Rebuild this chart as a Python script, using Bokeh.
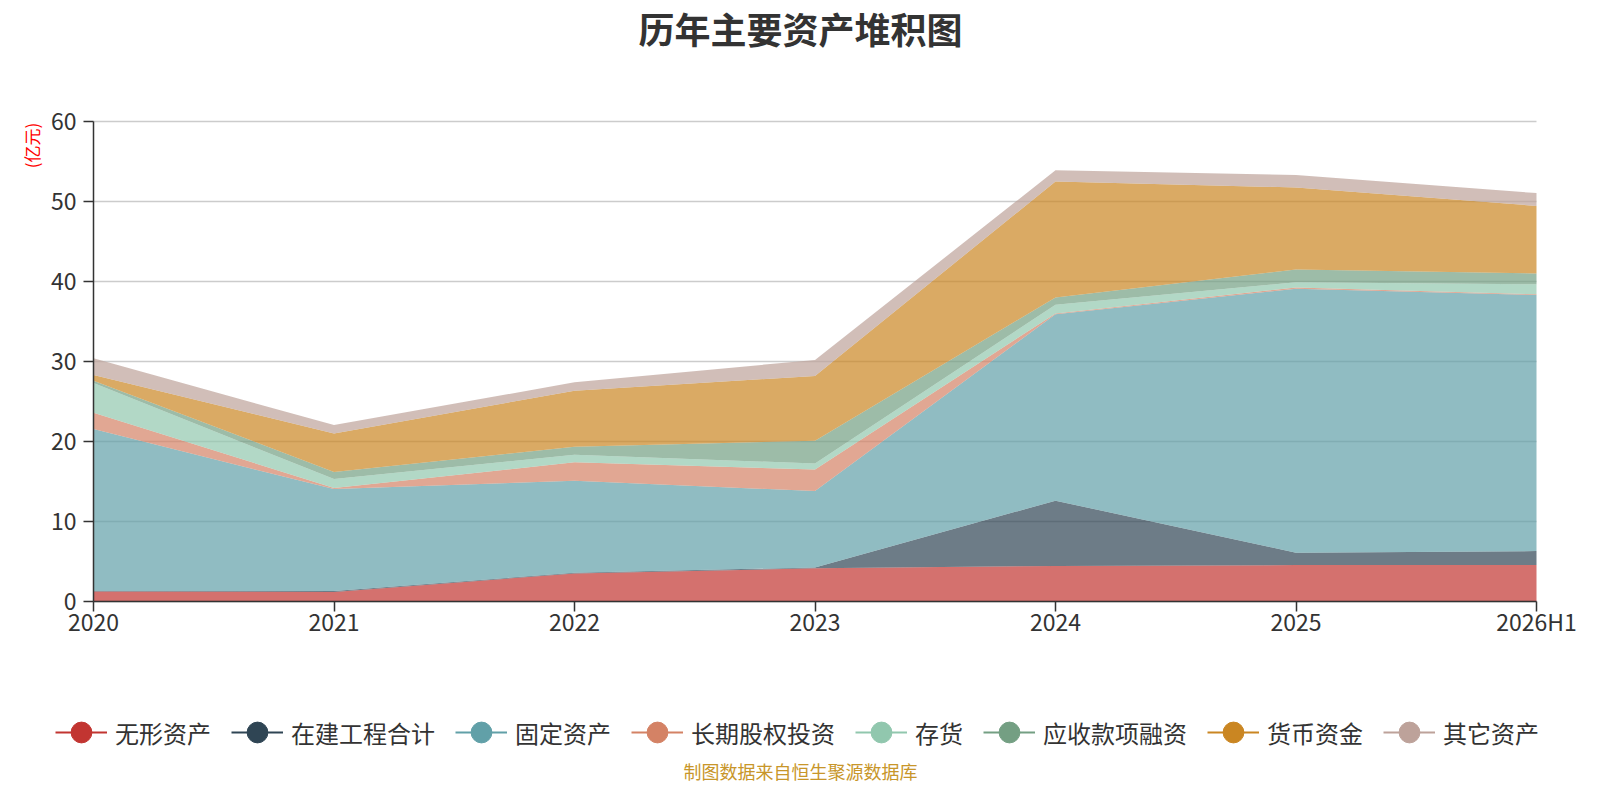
from math import pi
from bokeh.plotting import figure, ColumnDataSource
from bokeh.models import Range1d, FixedTicker, Legend, LegendItem, Label, Grid
from bokeh.embed import file_html
from bokeh.resources import INLINE

categories = ["2020", "2021", "2022", "2023", "2024", "2025", "2026H1"]
series_names = ["无形资产", "在建工程合计", "固定资产", "长期股权投资", "存货", "应收款项融资", "货币资金", "其它资产"]
wuxing = [1.25, 1.2, 3.5, 4.15, 4.45, 4.55, 4.55]
zaijian = [0.05, 0.1, 0.1, 0.1, 8.15, 1.55, 1.75]
guding = [20.25, 12.75, 11.5, 9.55, 23.3, 33.0, 32.0]
changqi = [2.05, 0.15, 2.3, 2.7, 0.1, 0.15, 0.1]
cunhuo = [3.7, 1.1, 0.95, 0.75, 1.1, 0.65, 1.25]
yingshou = [0.3, 0.9, 1.0, 2.85, 0.9, 1.6, 1.35]
huobi = [0.7, 4.8, 7.0, 8.1, 14.5, 10.25, 8.45]
qita = [2.1, 1.05, 1.05, 2.0, 1.4, 1.55, 1.6]
y_ticks = [0, 10, 20, 30, 40, 50, 60]

colors = ["#c23531", "#2f4554", "#61a0a8", "#d48265", "#91c7ae", "#749f83", "#ca8622", "#bda29a"]
FONT = "Noto Sans CJK SC"

W, H = 1584, 784
# plot area in canvas pixels (from top-left)
LEFT, RIGHT, TOP, BOTTOM = 93, 1536, 121, 601
n = len(categories)
y_max = y_ticks[-1]
px_x = (RIGHT - LEFT) / (n - 1)
px_y = (BOTTOM - TOP) / y_max

keys = ["wuxing", "zaijian", "guding", "changqi", "cunhuo", "yingshou", "huobi", "qita"]
source = ColumnDataSource(dict(
    x=list(range(n)),
    wuxing=wuxing, zaijian=zaijian, guding=guding, changqi=changqi,
    cunhuo=cunhuo, yingshou=yingshou, huobi=huobi, qita=qita,
))

# the frame covers the whole canvas; axes are pinned at the data origin
p = figure(width=W, height=H, output_backend="svg", toolbar_location=None,
           x_range=Range1d(-LEFT / px_x, (n - 1) + (W - RIGHT) / px_x),
           y_range=Range1d(-(H - BOTTOM) / px_y, y_max + TOP / px_y),
           min_border=0)
p.title.visible = False
p.outline_line_color = None
p.background_fill_color = "white"

# horizontal grid lines only across the plotting area
p.xgrid.visible = False
use_grid = "cross_bounds" in Grid.properties()
if use_grid:
    p.ygrid.cross_bounds = (0, n - 1)
    p.ygrid.grid_line_color = "#cccccc"
    p.ygrid.grid_line_width = 1.5
else:
    p.ygrid.visible = False
    p.segment(x0=0, x1=n - 1, y0=y_ticks, y1=y_ticks, line_color="#cccccc", line_width=1.5)

p.varea_stack(stackers=keys, x="x", color=colors, fill_alpha=0.7, source=source)

# axes
p.xaxis.ticker = FixedTicker(ticks=list(range(n)))
p.xaxis.major_label_overrides = {i: c for i, c in enumerate(categories)}
p.yaxis.ticker = FixedTicker(ticks=y_ticks)
p.xaxis.fixed_location = 0
p.yaxis.fixed_location = 0
p.xaxis.bounds = (0, n - 1)
p.yaxis.bounds = (0, y_max)
for ax in (p.xaxis, p.yaxis):
    ax.axis_line_color = "#333333"
    ax.axis_line_width = 1.5
    ax.major_tick_line_color = "#333333"
    ax.major_tick_line_width = 1.5
    ax.major_tick_in = 0
    ax.major_tick_out = 10
    ax.minor_tick_line_color = None
    ax.major_label_text_font = FONT
    ax.major_label_text_font_size = "23px"
    ax.major_label_text_color = "#333333"
p.xaxis.major_label_standoff = -8
p.yaxis.major_label_standoff = 7

# legend with line + circle icons (renderers hold only NaN, so nothing shows in the plot)
nan = float("nan")
items = []
for name, c in zip(series_names, colors):
    rl = p.line(x=[nan, nan], y=[nan, nan], line_color=c, line_width=2)
    rs = p.scatter(x=[nan], y=[nan], size=22, fill_color=c, line_color=c)
    items.append(LegendItem(label=name, renderers=[rl, rs]))
legend = Legend(items=items, orientation="horizontal", location=(55, 26),
                glyph_width=52, glyph_height=52, label_standoff=8, spacing=20,
                padding=0, margin=0, border_line_alpha=0, background_fill_alpha=0,
                label_text_font=FONT, label_text_font_size="24px", label_text_color="#333333")
p.add_layout(legend)

# texts (screen units, measured from the canvas bottom-left)
p.add_layout(Label(x=800, y=H - 27, x_units="screen", y_units="screen",
                   text="历年主要资产堆积图", text_font=FONT, text_font_size="36px",
                   text_font_style="bold", text_color="#333333",
                   text_align="center", text_baseline="middle"))
p.add_layout(Label(x=31, y=H - 145, x_units="screen", y_units="screen", angle=pi / 2,
                   text="(亿元)", text_font=FONT, text_font_size="17px", text_color="#ff0000",
                   text_align="center", text_baseline="middle"))
p.add_layout(Label(x=800, y=14, x_units="screen", y_units="screen",
                   text="制图数据来自恒生聚源数据库", text_font=FONT, text_font_size="18px",
                   text_color="#c8962a", text_align="center", text_baseline="middle"))

open("out.html", "w").write(file_html(p, INLINE))
